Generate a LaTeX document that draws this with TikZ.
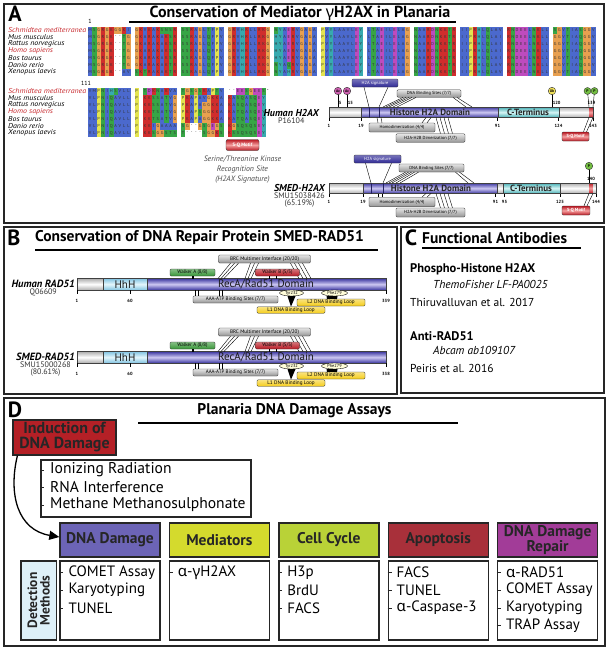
\documentclass[tikz,border=0pt]{standalone}
\usepackage{graphicx}
\usepackage{fontspec}
\setmainfont{PT Sans}
\newfontfamily\grk{Noto Sans}
\usetikzlibrary{shapes.geometric, arrows.meta, calc, positioning}

% alignment colours (Clustal-like)
\definecolor{alnblue}{RGB}{75,105,205}
\definecolor{alnred}{RGB}{208,45,45}
\definecolor{alngreen}{RGB}{55,165,70}
\definecolor{alnorange}{RGB}{232,160,80}
\definecolor{alnyellow}{RGB}{228,228,80}
\definecolor{alncyan}{RGB}{55,170,175}
\definecolor{alnmag}{RGB}{190,75,190}
\colorlet{aaA}{alnblue}\colorlet{aaI}{alnblue}\colorlet{aaL}{alnblue}\colorlet{aaM}{alnblue}
\colorlet{aaF}{alnblue}\colorlet{aaW}{alnblue}\colorlet{aaV}{alnblue}\colorlet{aaC}{alnblue}
\colorlet{aaK}{alnred}\colorlet{aaR}{alnred}\colorlet{aaE}{alnmag}\colorlet{aaD}{alnmag}
\colorlet{aaN}{alngreen}\colorlet{aaQ}{alngreen}\colorlet{aaS}{alngreen}\colorlet{aaT}{alngreen}
\colorlet{aaG}{alnorange}\colorlet{aaP}{alnyellow}\colorlet{aaH}{alncyan}\colorlet{aaY}{alncyan}

% domain colours
\definecolor{domblue}{RGB}{60,55,160}
\definecolor{domlight}{RGB}{205,200,242}
\definecolor{domcyan}{RGB}{70,175,180}
\definecolor{cyanlight}{RGB}{215,245,245}
\definecolor{hhhedge}{RGB}{130,195,225}
\definecolor{hhhlight}{RGB}{228,246,252}
\definecolor{sqred}{RGB}{185,25,35}
\definecolor{sqlight}{RGB}{245,160,160}
\definecolor{sigblue}{RGB}{48,42,150}
\definecolor{walkgreen}{RGB}{55,150,55}
\definecolor{loopyel}{RGB}{245,205,25}
\definecolor{ptmmag}{RGB}{205,95,175}
\definecolor{ptmyel}{RGB}{240,225,90}
\definecolor{ptmgreen}{RGB}{115,190,65}
\definecolor{spred}{RGB}{200,40,45}

% assay colours
\definecolor{hdDNA}{RGB}{108,100,182}
\definecolor{hdMed}{RGB}{212,218,45}
\definecolor{hdCyc}{RGB}{185,210,55}
\definecolor{hdApo}{RGB}{168,48,58}
\definecolor{hdRep}{RGB}{162,60,152}
\definecolor{indred}{RGB}{180,32,38}
\definecolor{detblue}{RGB}{222,240,248}

% one shaded piece of a protein bar
\newcommand\domseg[6]{\shade[top color=#5, bottom color=#5, middle color=#6] (#1,#3) rectangle (#2,#4);}

% one row of the alignment, read letter by letter
\newcounter{alnres}
\def\alnrow#1#2#3{\def\alnx{#1}\def\alny{#2}\expandafter\alnloop#3\relax}
\def\alnloop#1{\ifx#1\relax\else\alncell#1\expandafter\alnloop\fi}
\def\alncell#1{%
  \ifx#1|\pgfmathsetmacro\alnx{\alnx+4}\else
    \stepcounter{alnres}%
    \ifx#1.\else\ifx#1-%
      \node[resid] (res\thealnres) at (\alnx+2.125,\alny+3.5) {-};%
    \else\ifx#1*%
      \node[resid] (res\thealnres) at (\alnx+2.125,\alny+3.5) {*};%
    \else
      \fill[aa#1] (\alnx,\alny) rectangle ++(4.25,7);%
      \node[resid] (res\thealnres) at (\alnx+2.125,\alny+3.5) {#1};%
    \fi\fi\fi
    \pgfmathsetmacro\alnx{\alnx+4.25}%
  \fi}

\begin{document}
\begin{tikzpicture}
  [x=1pt, y=-1pt,
  panelbox/.style={draw=black!85, line width=1.5pt},
  plabel/.style={inner sep=0, font=\bfseries\fontsize{22}{22}\selectfont},
  ptitle/.style={inner sep=0, font=\bfseries\fontsize{15.5}{16}\selectfont},
  uline/.style={draw=black, line width=1.2pt},
  species/.style={anchor=west, inner sep=0, font=\itshape\fontsize{7.1}{7}\selectfont},
  redspec/.style={species, text=spred},
  resid/.style={inner sep=0, font=\fontsize{4.3}{4}\selectfont, text=black!80},
  protname/.style={anchor=east, inner sep=0, font=\bfseries\itshape\fontsize{10}{11}\selectfont},
  protid/.style={inner sep=0, align=center, font=\fontsize{8}{7.5}\selectfont, text=black!80},
  domtext/.style={inner sep=0, font=\bfseries\fontsize{9}{10}\selectfont, text=black!85},
  radtext/.style={inner sep=0, font=\fontsize{11}{12}\selectfont, text=black!90},
  barline/.style={draw=black!75, line width=0.5pt},
  tickmark/.style={draw=black, line width=0.4pt},
  ticknum/.style={inner sep=0, font=\bfseries\fontsize{4.5}{5}\selectfont},
  featbox/.style={draw=black!80, line width=0.35pt, rounded corners=1.2pt, inner sep=0,
    font=\fontsize{4.4}{5}\selectfont, top color=black!10, bottom color=black!42},
  sigbox/.style={featbox, top color=sigblue!65, bottom color=sigblue, text=white},
  sqbox/.style={featbox, top color=sqred, bottom color=sqred, middle color=sqlight,
    text=white, font=\bfseries\fontsize{4.4}{5}\selectfont},
  walkA/.style={featbox, top color=walkgreen!60, bottom color=walkgreen,
    minimum width=45pt, minimum height=7pt, font=\fontsize{5}{5}\selectfont},
  walkB/.style={featbox, top color=sqred!60, bottom color=sqred,
    minimum width=44pt, minimum height=7pt, font=\fontsize{5}{5}\selectfont},
  loopbox/.style={featbox, top color=loopyel!55, bottom color=loopyel,
    minimum width=68pt, font=\fontsize{5.2}{5}\selectfont},
  resbox/.style={ellipse, draw=black, line width=0.35pt, fill=yellow!15, inner sep=0,
    font=\fontsize{4.4}{5}\selectfont},
  ptm/.style={circle, draw=black!80, line width=0.4pt, minimum size=7.5pt, inner sep=0,
    font=\bfseries\fontsize{3.8}{4}\selectfont},
  featlink/.style={draw=black, line width=0.4pt},
  abname/.style={anchor=west, inner sep=0, font=\bfseries\fontsize{12.5}{13}\selectfont},
  abcat/.style={anchor=west, inner sep=0, font=\itshape\fontsize{11.5}{12}\selectfont},
  abref/.style={anchor=west, inner sep=0, font=\fontsize{11.5}{12}\selectfont},
  indbox/.style={draw=black!85, line width=1.2pt, fill=indred, text=black!85, align=center,
    minimum width=103pt, minimum height=35pt, inner sep=0,
    font=\bfseries\fontsize{16}{15}\selectfont},
  listbox/.style={draw=black!85, line width=1.2pt, inner sep=0},
  listitem/.style={anchor=west, inner sep=0, font=\fontsize{15.6}{16}\selectfont},
  dashmark/.style={draw=black!85, line width=0.8pt},
  assayhead/.style={draw=black!85, line width=1.4pt, minimum width=100pt, minimum height=34pt,
    inner sep=0, align=center, text=black!85, font=\bfseries\fontsize{15.5}{15}\selectfont},
  assaybox/.style={draw=black!85, line width=1.4pt, minimum width=100pt, minimum height=79pt,
    inner sep=0},
  bigarrow/.style={draw=black, line width=1.3pt, -{Triangle[length=10pt, width=9pt]}}
  ]
  \useasboundingbox[fill=white] (0,0) rectangle (609,651);

  % ---------------- Panel A ----------------
  \draw[panelbox] (4,4) rectangle (604,223);
  \node[plabel] (labA) at (15,14) {A};
  \node[ptitle, font=\bfseries\fontsize{16}{16}\selectfont] (titA) at (300,13) {Conservation of Mediator {\grk γ}H2AX in Planaria};
  \draw[uline] (129,22) -- (456,22);

  % species names, both alignment blocks
  \foreach \sp [count=\i from 0] in {Schmidtea mediterranea, Mus musculus, Rattus norvegicus,
      Homo sapiens, Bos taurus, Danio rerio, Xenopus laevis}{
    \ifnum\i=0 \def\spst{redspec}\else\ifnum\i=3 \def\spst{redspec}\else\def\spst{species}\fi\fi
    \node[\spst] (spa\i) at (8,30+7*\i) {\scalebox{1.11}[1]{\sp}};
    \node[\spst] (spb\i) at (8,91+7*\i) {\scalebox{1.11}[1]{\sp}};
  }
  \node[inner sep=0, font=\fontsize{6}{6}\selectfont] (pos1) at (90,21) {1};
  \node[inner sep=0, font=\fontsize{6}{6}\selectfont] (pos111) at (86,83.5) {111};

  % alignment residues
  \foreach \sa/\sb [count=\i from 0] in {
    MSGRGKGGKI|GKVKAKSNSR|SSRAGLTFPV|GRVHRLLRKG|NYAERVGAGA|PVYLAAVLEY|LTAEILELAG|NAARDNKKTR|IIPRHLQLAV|RNDEELNKLL|SGVTIASGGV/VMPNIHSVLL|P.TDKNAKVA|TGSGSKAPTV|--EESGEES*,
    MSGRGK--TG|GKARAKAKSR|SSRAGLQFPV|GRVHRLLRKG|HYAERVGAGA|PVYLAAVLEY|LTAEILELAG|NAARDNKKTR|IIPRHLQLAI|RNDEELNKLL|GGVTIAQGGV/VLPNIQAVLL|P.KKSSATVG|PKAPAVGKKA|KASQASQEY,
    MSGRGK--TG|GKARAKAKSR|SSRAGLQFPV|GRVHRLLRKG|HYAERVGAGA|PVYLAAVLEY|LTAEILELAG|NAARDNKKTR|IIPRHLQLAI|RNDEELNKLL|GGVTIAQGGV/VLPNIQAVLL|P.KKSSATVG|PKAPAGGKKA|KASQASQEY,
    MSGRGK--TG|GKARAKAKSR|SSRAGLQFPV|GRVHRLLRKG|HYAERVGAGA|PVYLAAVLEY|LTAEILELAG|NAARDNKKTR|IIPRHLQLAI|RNDEELNKLL|GGVTIAQGGV/VLPNIQAVLL|P.KKTSATVG|PKAPSGGKKA|KATQASQEY,
    MSGRGK--TG|GKARAKAKSR|SSRAGLQFPV|GRVHRLLRKG|HYAERVGAGA|PVYLAAVLEY|LTAEILELAG|NAARDNKKTR|IIPRHLQLAI|RNDEELNKLL|GGVTIAQGGV/VLPNIQAVLL|P.KKTSATVG|PKAPAGGKKA|KATQASQEY,
    MSGRGK--TG|GKARAKAKTR|SSRAGLQFPV|GRVHRLLRKG|NYAQRVGAGA|PVYLAAVLEY|LTAEILELAG|NAARDNKKTR|IIPRHLQLAV|RNDEELNKLL|GGVTIAQGGV/VLPNIQAVLL|P.KKIGAAAA|SG--GSGEGS|KGSQSQSEY,
    MSGRGK--AV|SKTRAKAKTR|SSRAGLQFPV|GRVHRLLRKG|NYAHRVGAGA|PVYLAAVLEY|LTAEILELAG|NAARDNKKTR|IIPRHLQLAV|RNDEELNKLL|GGVTIAQGGV/VLPNIQAVLL|P.KKSGGSTS|T----SGGKS|KSSQSQSEY}{
    \alnrow{88}{26.5+7*\i}{\sa}
    \alnrow{88}{87.5+7*\i}{\sb}
  }

  % S-Q motif under the alignment
  \node[sqbox, minimum width=33pt, minimum height=11pt, rounded corners=2pt,
    font=\bfseries\fontsize{4.8}{5}\selectfont] (alnsq) at (242.5,145) {S-Q Motif};
  \node[inner sep=0, align=center, text=black!70, font=\itshape\fontsize{7.8}{10}\selectfont,
    below=5pt of alnsq] (kinase) {Serine/Threonine Kinase\\Recognition Site\\(H2AX Signature)};

  % Human H2AX
  \node[protname] (hxname) at (319,112.5) {Human H2AX};
  \node[protid, below=1pt of hxname] (hxid) {P16104};
  \domseg{329}{361}{107}{117.5}{black!32}{white}
  \domseg{361}{498}{107}{117.5}{domblue}{domlight}
  \domseg{498}{559}{107}{117.5}{domcyan}{cyanlight}
  \domseg{559}{589}{107}{117.5}{black!32}{white}
  \domseg{589}{593}{107}{117.5}{sqred}{sqlight}
  \draw[barline] (329,107) rectangle (593,117.5);
  \foreach \x in {361,498,559} \draw[barline] (\x,107) -- (\x,117.5);
  \foreach \x in {369,379} \draw[domblue!60!black, line width=0.3pt] (\x,107) -- (\x,117.5);
  \node[domtext] (hxhis) at (430,112.4) {Histone H2A Domain};
  \node[domtext] (hxcter) at (528,112.4) {C-Terminus};
  \foreach \x/\t in {329/1, 361/19, 497.5/91, 558.5/124, 593/143}{
    \draw[tickmark] (\x,117.5) -- (\x,120.5);
    \node[ticknum] (hxt\t) at (\x,125.5) {\t};
  }
  % modifications
  \foreach \x/\t/\c/\n in {338/Ac/ptmmag/5, 347/Ac/ptmmag/15, 552/Ub/ptmyel/120}{
    \draw[featlink] (\x,91) -- (\x,107);
    \node[ptm, fill=\c] (hxm\n) at (\x,91) {\t};
    \node[ticknum, anchor=west] (hxn\n) at (\x+0.6,103) {\n};
  }
  \draw[featlink] (587.5,91) -- (589,107);
  \draw[featlink] (594.5,91) -- (593,107);
  \node[ptm, fill=ptmgreen, minimum size=7pt] (hxp1) at (587.5,91) {P};
  \node[ptm, fill=ptmgreen, minimum size=7pt] (hxp2) at (594.5,91) {P};
  \node[ticknum] (hxn139) at (591.5,103) {139};
  % features
  \node[sigbox, minimum width=46pt, minimum height=8pt] (hxsig) at (375,83) {H2A signature};
  \draw[featlink] ([xshift=-11pt]hxsig.south) -- (369,107);
  \draw[featlink] ([xshift=13pt]hxsig.south) -- (379,107);
  \node[featbox, minimum width=64pt, minimum height=7.5pt] (hxdna) at (429,93.5) {DNA Binding Sites (7/7)};
  \foreach \a/\b in {-26/383, -23/386, -20/389, -17/393, -13/397, 24/466, 28/472}
    \draw[featlink] ([xshift=\a pt]hxdna.south) -- (\b,107);
  \node[featbox, minimum width=69pt, minimum height=8.5pt] (hxdim) at (430.5,138) {H2A-H2B Dimerization (7/7)};
  \foreach \a/\b in {10/436, 14/440, 18/444, 22/448}
    \draw[featlink] ([xshift=\a pt]hxdim.north) -- (\b,117.5);
  \node[featbox, minimum width=66pt, minimum height=9pt] (hxhomo) at (402,127.5) {Homodimerization (4/4)};
  \foreach \a/\b in {-24/377, -20/381, 20/426, 25/431}
    \draw[featlink] ([xshift=\a pt]hxhomo.north) -- (\b,117.5);
  \node[sqbox, minimum width=27pt, minimum height=9pt] (hxsq) at (575.5,136.5) {S-Q Motif};
  \draw[featlink] ([xshift=8pt]hxsq.north) -- (589,117.5);
  \draw[featlink] ([xshift=11pt]hxsq.north) -- (593,117.5);

  % SMED-H2AX
  \node[protname] (sxname) at (325,187.5) {SMED-H2AX};
  \node[protid, below=1pt of sxname] (sxid) {SMU15038426\\(65.19\%)};
  \domseg{329}{363}{183}{193.5}{black!32}{white}
  \domseg{363}{497}{183}{193.5}{domblue}{domlight}
  \domseg{497}{503}{183}{193.5}{black!32}{white}
  \domseg{503}{560}{183}{193.5}{domcyan}{cyanlight}
  \domseg{560}{589}{183}{193.5}{black!32}{white}
  \domseg{589}{593}{183}{193.5}{sqred}{sqlight}
  \domseg{593}{596}{183}{193.5}{black!32}{white}
  \draw[barline] (329,183) rectangle (596,193.5);
  \foreach \x in {363,497,503,560} \draw[barline] (\x,183) -- (\x,193.5);
  \foreach \x in {371,383} \draw[domblue!60!black, line width=0.3pt] (\x,183) -- (\x,193.5);
  \node[domtext] (sxhis) at (431,188.4) {Histone H2A Domain};
  \node[domtext] (sxcter) at (531,188.4) {C-Terminus};
  \foreach \x/\t in {329/1, 363/19, 495.5/91, 504.5/95, 560/125, 596/144}{
    \draw[tickmark] (\x,193.5) -- (\x,196.5);
    \node[ticknum] (sxt\t) at (\x,201.5) {\t};
  }
  \draw[featlink] (589,166) -- (589,183);
  \node[ptm, fill=ptmgreen] (sxp) at (589,166) {P};
  \node[ticknum] (sxn140) at (591,179) {140};
  \node[sigbox, minimum width=47pt, minimum height=8pt] (sxsig) at (377.5,159) {H2A signature};
  \draw[featlink] ([xshift=-12pt]sxsig.south) -- (371,183);
  \draw[featlink] ([xshift=14pt]sxsig.south) -- (383,183);
  \node[featbox, minimum width=65pt, minimum height=8pt] (sxdna) at (431.5,168) {DNA Binding Sites (7/7)};
  \foreach \a/\b in {-26/386, -23/389, -20/392, -17/396, -13/400, 24/468, 28/474}
    \draw[featlink] ([xshift=\a pt]sxdna.south) -- (\b,183);
  \node[featbox, minimum width=69pt, minimum height=9pt] (sxdim) at (430.5,212.5) {H2A-H2B Dimerization (7/7)};
  \foreach \a/\b in {10/436, 14/440, 18/444, 22/448}
    \draw[featlink] ([xshift=\a pt]sxdim.north) -- (\b,193.5);
  \node[featbox, minimum width=66pt, minimum height=9.5pt] (sxhomo) at (402,202) {Homodimerization (4/4)};
  \foreach \a/\b in {-24/378, -20/382, 20/426, 25/431}
    \draw[featlink] ([xshift=\a pt]sxhomo.north) -- (\b,193.5);
  \node[sqbox, minimum width=28pt, minimum height=9pt] (sxsq) at (576,210.5) {S-Q Motif};
  \draw[featlink] ([xshift=8pt]sxsq.north) -- (589,193.5);
  \draw[featlink] ([xshift=11pt]sxsq.north) -- (593,193.5);

  % ---------------- Panel B ----------------
  \draw[panelbox] (4,227) rectangle (397,394);
  \node[plabel] (labB) at (14,238) {B};
  \node[ptitle, anchor=west] (titB) at (35,238) {Conservation of DNA Repair Protein SMED-RAD51};
  \draw[uline] (35,250) -- (378,250);

  \foreach \pr/\dy/\last/\pname/\pid in {h/0/339/Human RAD51/Q06609,
      s/73/338/SMED-RAD51/{SMU15000268\\(80.61\%)}}{
    % bar
    \domseg{77}{103}{278.5+\dy}{290+\dy}{black!32}{white}
    \domseg{103}{147}{278.5+\dy}{290+\dy}{hhhedge}{hhhlight}
    \domseg{147}{386}{278.5+\dy}{290+\dy}{domblue}{domlight}
    \draw[barline] (77,278.5+\dy) rectangle (386,290+\dy);
    \foreach \x in {103,147} \draw[barline] (\x,278.5+\dy) -- (\x,290+\dy);
    \node[radtext] (\pr hhh) at (125,284.3+\dy) {HhH};
    \node[radtext] (\pr reca) at (266,284.3+\dy) {RecA/Rad51 Domain};
    \node[protname, font=\bfseries\itshape\fontsize{10.5}{11}\selectfont] (\pr rname) at (75,283.5+\dy) {\pname};
    \node[protid, below=1pt of \pr rname] (\pr rid) {\pid};
    \foreach \x/\t in {77/1, 130/60, 386/\last}{
      \draw[tickmark] (\x,290+\dy) -- (\x,293.5+\dy);
      \node[ticknum] (\pr rt\t) at (\x,300.5+\dy) {\t};
    }
    % above the bar
    \node[featbox, minimum width=92pt, minimum height=8pt, font=\fontsize{5.2}{5}\selectfont]
      (\pr brc) at (264.5,259+\dy) {BRC Multimer Interface (20/20)};
    \foreach \a/\b in {-34/218, -30/221, -26/224, -14/245, -10/248, -6/251, 26/299, 30/303, 34/307, 38/311}
      \draw[featlink] ([xshift=\a pt]\pr brc.south) -- (\b,278.5+\dy);
    \node[walkA] (\pr wa) at (192.5,272.5+\dy) {Walker A (8/8)};
    \node[walkB] (\pr wb) at (277.5,272.5+\dy) {Walker B (5/5)};
    \draw[line width=2pt] (\pr wa.south) -- (192.5,278.5+\dy);
    \draw[line width=1.6pt] ([xshift=-8pt]\pr wb.south) -- (269.5,278.5+\dy);
    \draw[line width=1.6pt] ([xshift=-1pt]\pr wb.south) -- (276.5,278.5+\dy);
    % below the bar
    \node[featbox, minimum width=85pt, minimum height=7pt, font=\fontsize{5}{5}\selectfont]
      (\pr aaa) at (235.5,299.5+\dy) {AAA-ATP Binding Sites (7/7)};
    \foreach \x in {195,198,219,222} \draw[featlink] (\x,290+\dy) -- (\x,296+\dy);
    \node[resbox, minimum width=24pt, minimum height=6pt] (\pr tyr) at (291.5,293+\dy) {Tyr232};
    \node[resbox, minimum width=26pt, minimum height=6pt] (\pr phe) at (334.5,293+\dy) {Phe279};
    \node[loopbox, minimum height=7pt] (\pr ltwo) at (331,302.5+\dy) {L2 DNA Binding Loop};
    \node[loopbox, minimum height=6.5pt] (\pr lone) at (291,310+\dy) {L1 DNA Binding Loop};
    \fill ([xshift=-4pt]\pr tyr.south) -- ([xshift=4pt]\pr tyr.south) -- (\pr lone.north) -- cycle;
    \fill ([xshift=-8pt]\pr phe.south) -- ([xshift=3pt]\pr phe.south)
      -- ([xshift=6pt]\pr ltwo.north) -- ([xshift=-4pt]\pr ltwo.north) -- cycle;
  }

  % ---------------- Panel C ----------------
  \draw[panelbox] (401,227) rectangle (604,393);
  \node[plabel] (labC) at (411,238) {C};
  \node[ptitle, anchor=west] (titC) at (422,238) {Functional Antibodies};
  \draw[uline] (422,248) -- (581,248);
  \node[abname] (ab1) at (410,269) {Phospho-Histone H2AX};
  \node[abcat] (ab1cat) at (433,284) {ThemoFisher LF-PA0025};
  \node[abref] (ab1ref) at (410,302) {Thiruvalluvan et al. 2017};
  \node[abname] (ab2) at (410,336) {Anti-RAD51};
  \node[abcat] (ab2cat) at (433,350) {Abcam ab109107};
  \node[abref] (ab2ref) at (410,368) {Peiris et al. 2016};

  % ---------------- Panel D ----------------
  \draw[panelbox] (4,398) rectangle (605,646);
  \node[plabel] (labD) at (15,410) {D};
  \node[ptitle] (titD) at (294.5,411) {Planaria DNA Damage Assays};
  \draw[uline] (138,423) -- (458,423);
  \node[indbox] (induce) at (64.5,437.5) {Induction of\\DNA Damage};
  \node[listbox, minimum width=210pt, minimum height=57pt] (agents) at (146,488.5) {};
  \foreach \t [count=\i from 0] in {Ionizing Radiation, RNA Interference, Methane Methanosulphonate}{
    \node[listitem] (agent\i) at (50,470+17.5*\i) {\t};
    \draw[dashmark] (agents.west |- agent\i.west) -- ++(4,0);
  }
  \node[draw=black!85, line width=1.4pt, fill=detblue, rotate=90, minimum width=79pt,
    minimum height=35.5pt, inner sep=0, align=center, text=black!85,
    font=\bfseries\fontsize{13.5}{12.5}\selectfont] (detect) at (38.75,600.5) {Detection\\Methods};

  % assay columns
  \foreach \hd/\col/\items [count=\i from 0] in {
      DNA Damage/hdDNA/{COMET Assay,Karyotyping,TUNEL},
      Mediators/hdMed/{{\grk α}-{\grk γ}H2AX},
      Cell Cycle/hdCyc/{H3p,BrdU,FACS},
      Apoptosis/hdApo/{FACS,TUNEL,{\grk α}-Caspase-3},
      {DNA Damage\\Repair}/hdRep/{{\grk α}-RAD51,COMET Assay,Karyotyping,TRAP Assay}}{
    \node[assayhead, fill=\col] (head\i) at (110+109.4*\i,540) {\hd};
    \node[assaybox] (assay\i) at (110+109.4*\i,600.5) {};
    \foreach \it [count=\j from 0] in \items {
      \node[listitem, font=\fontsize{15}{16}\selectfont] (item\i-\j) at ($(assay\i.north west)+(9,12+17.8*\j)$) {\it};
      \draw[dashmark] (assay\i.west |- item\i-\j.west) -- ++(4,0);
    }
  }
  \draw[bigarrow] ([xshift=5pt]induce.south west) .. controls (8,495) and (18,530) .. ([yshift=3pt]head0.west);
\end{tikzpicture}
\end{document}
